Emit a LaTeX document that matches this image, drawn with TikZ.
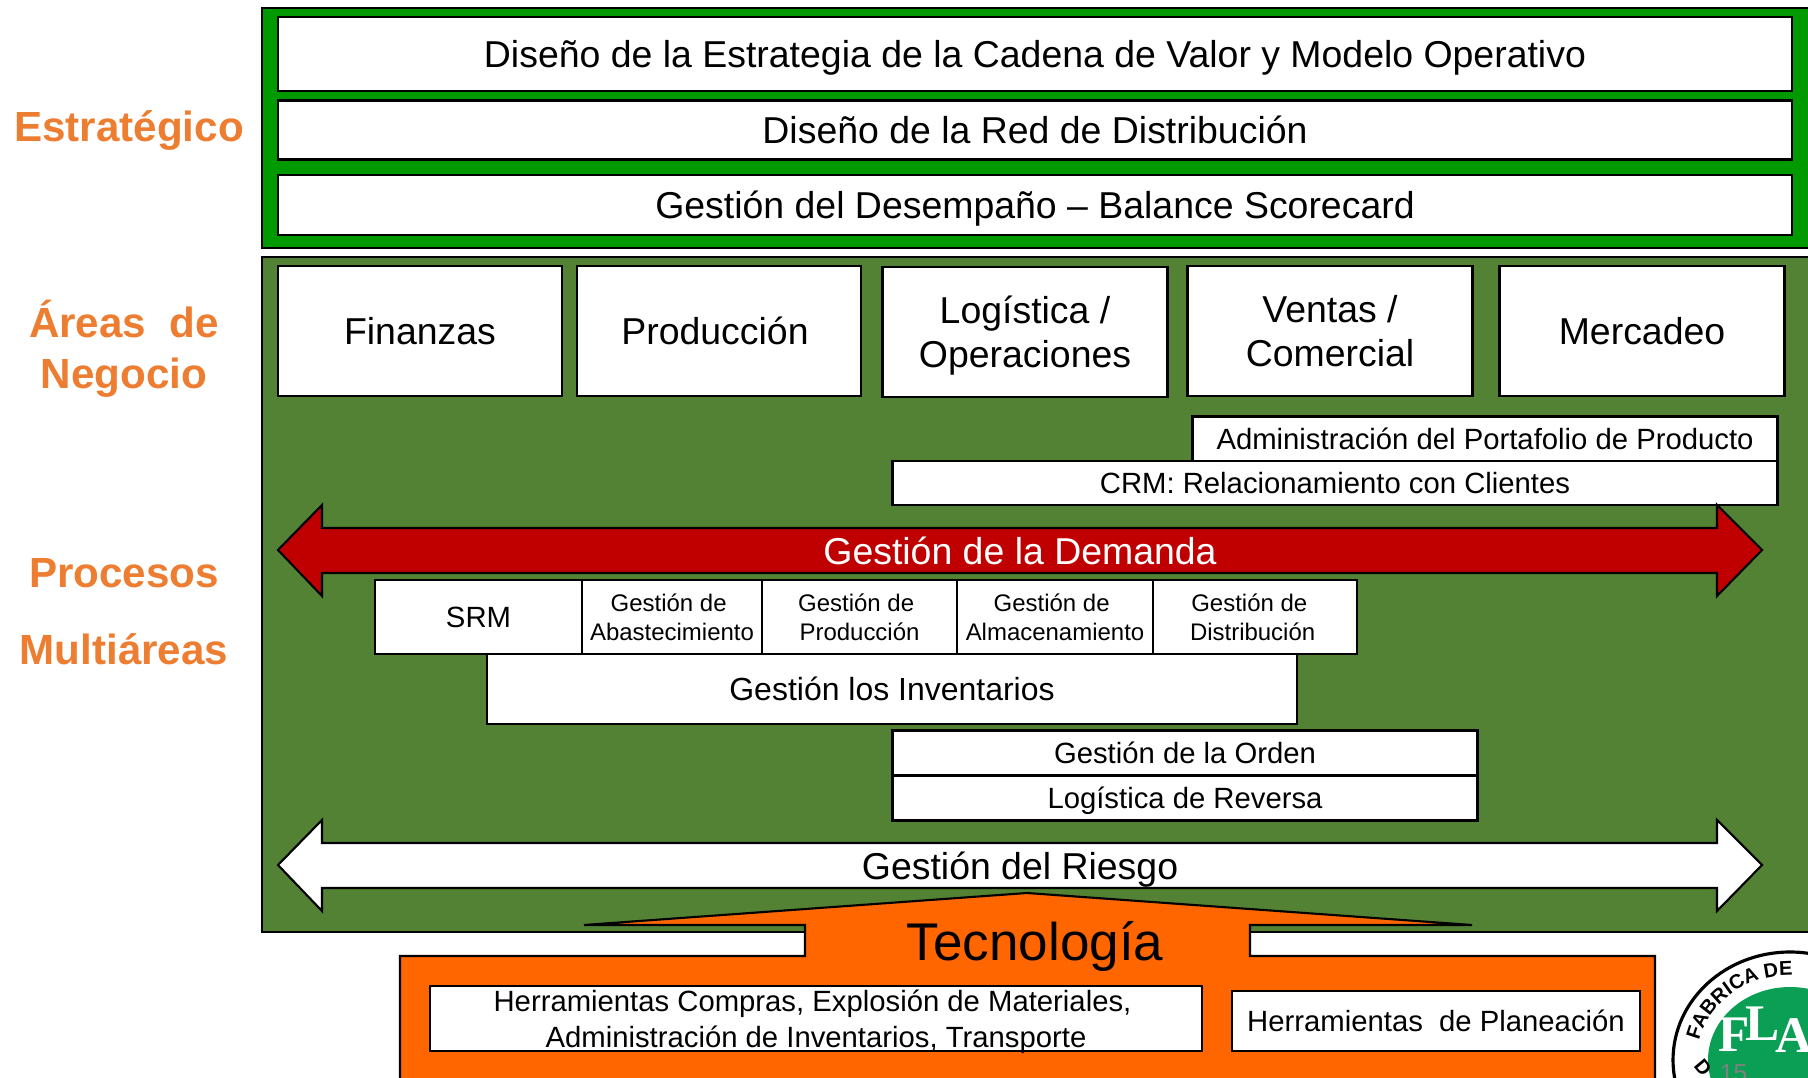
\documentclass[tikz,border=0pt]{standalone}
\usepackage{fontspec}
\setmainfont{Liberation Sans}
\newfontfamily\logofont{Liberation Serif}
\usetikzlibrary{decorations.text}
\definecolor{stratgreen}{HTML}{009A00}
\definecolor{areagreen}{HTML}{548235}
\definecolor{labelorange}{HTML}{ED7D31}
\definecolor{techorange}{HTML}{FF6600}
\definecolor{demandred}{HTML}{C00000}
\definecolor{logogreen}{HTML}{0A9F55}
\tikzset{
  panel/.style={draw=black,line width=0.6pt},
  whitebox/.style={draw=black,fill=white,line width=0.6pt,rectangle,inner sep=0pt,align=center},
  sidelabel/.style={text=labelorange,font=\fontsize{12}{14}\selectfont\bfseries,align=center,inner sep=0pt},
  big/.style={font=\fontsize{10.65}{12.6}\selectfont},
  mid/.style={font=\fontsize{8.33}{10.1}\selectfont},
  small/.style={font=\fontsize{6.82}{8.2}\selectfont},
  sink/.style={text depth=#1},
  logoletter/.style={text=white,inner sep=0pt,font=\logofont\fontsize{14.6}{15}\selectfont\bfseries},
}
\newcommand{\gde}{Gestión de\kern.28em}
\begin{document}
\begin{tikzpicture}
      \useasboundingbox (0,0) rectangle (18.08,-10.78);
      \clip (0,0) rectangle (18.08,-10.78);

      % labels on the left
      \draw (1.29,-1.305) node (estrategico) [sidelabel] {Estratégico};
      \draw (1.24,-3.195) node (areas) [sidelabel] {Áreas~ de};
      \draw (1.24,-3.775) node (negocio) [sidelabel] {Negocio};
      \draw (1.24,-5.73) node (procesos) [sidelabel] {Procesos};
      \draw (1.24,-6.49) node (multiareas) [sidelabel] {Multiáreas};

      % strategic panel
      \draw[panel,fill=stratgreen] (2.62,-0.08) rectangle (18.1,-2.48);
      \draw (10.35,-0.54) node (cadena) [whitebox,big,sink=0pt,minimum width=15.14cm,minimum height=0.74cm] {Diseño de la Estrategia de la Cadena de Valor y Modelo Operativo};
      \draw (10.35,-1.30) node (red) [whitebox,big,minimum width=15.14cm,minimum height=0.59cm] {Diseño de la Red de Distribución};
      \draw (10.35,-2.05) node (desempeno) [whitebox,big,sink=0pt,minimum width=15.14cm,minimum height=0.60cm] {Gestión del Desempaño – Balance Scorecard};

      % areas panel
      \draw[panel,fill=areagreen] (2.62,-2.57) rectangle (18.1,-9.32);
      \draw (4.20,-3.31) node (finanzas) [whitebox,big,minimum width=2.84cm,minimum height=1.30cm] {Finanzas};
      \draw (7.19,-3.31) node (produccion) [whitebox,big,minimum width=2.84cm,minimum height=1.30cm] {Producción\kern.08cm};
      \draw (10.25,-3.32) node (logistica) [whitebox,big,sink=0pt,minimum width=2.85cm,minimum height=1.30cm] {Logística /\\Operaciones};
      \draw (13.30,-3.31) node (ventas) [whitebox,big,minimum width=2.85cm,minimum height=1.30cm] {Ventas /\\Comercial};
      \draw (16.42,-3.31) node (mercadeo) [whitebox,big,minimum width=2.85cm,minimum height=1.30cm] {Mercadeo};

      \draw (14.85,-4.39) node (portafolio) [whitebox,mid,sink=-0.02cm,minimum width=5.85cm,minimum height=0.45cm] {Administración del Portafolio de Producto};
      \draw (13.35,-4.83) node (crm) [whitebox,mid,sink=-0.02cm,minimum width=8.85cm,minimum height=0.44cm] {CRM: Relacionamiento con Clientes};

      % demand arrow
      \draw[panel,fill=demandred] (2.78,-5.50) -- (3.22,-5.05) -- (3.22,-5.28) -- (17.17,-5.28) -- (17.17,-5.05) -- (17.62,-5.50) -- (17.17,-5.96) -- (17.17,-5.73) -- (3.22,-5.73) -- (3.22,-5.96) -- cycle;
      \draw (10.20,-5.505) node (demanda) [big,text=white] {Gestión de la Demanda};

      \draw (4.785,-6.17) node (srm) [whitebox,mid,sink=-0.07cm,minimum width=2.07cm,minimum height=0.74cm] {SRM};
      \draw (6.72,-6.17) node (abasto) [whitebox,small,sink=-0.02cm,minimum width=1.80cm,minimum height=0.74cm] {\gde\\Abastecimiento};
      \draw (8.595,-6.17) node (gprod) [whitebox,small,sink=-0.02cm,minimum width=1.95cm,minimum height=0.74cm] {\gde\\Producción};
      \draw (10.55,-6.17) node (almacen) [whitebox,small,sink=-0.02cm,minimum width=1.96cm,minimum height=0.74cm] {\gde\\Almacenamiento};
      \draw (12.55,-6.17) node (distrib) [whitebox,small,sink=-0.02cm,minimum width=2.04cm,minimum height=0.74cm] {\gde\kern.2em\\Distribución\kern.2em};
      \draw (8.92,-6.89) node (inventarios) [whitebox,mid,font=\fontsize{9.1}{11}\selectfont,sink=-0.08cm,minimum width=8.10cm,minimum height=0.70cm] {Gestión los Inventarios};

      \draw (11.85,-7.53) node (orden) [whitebox,mid,sink=-0.02cm,minimum width=5.85cm,minimum height=0.45cm] {Gestión de la Orden};
      \draw (11.85,-7.98) node (reversa) [whitebox,mid,sink=-0.02cm,minimum width=5.85cm,minimum height=0.45cm] {Logística de Reversa};

      % risk arrow
      \draw[panel,fill=white] (2.78,-8.65) -- (3.22,-8.20) -- (3.22,-8.43) -- (17.17,-8.43) -- (17.17,-8.20) -- (17.62,-8.65) -- (17.17,-9.11) -- (17.17,-8.88) -- (3.22,-8.88) -- (3.22,-9.11) -- cycle;
      \draw (10.20,-8.695) node (riesgo) [big] {Gestión del Riesgo};

      % technology
      \draw[panel,fill=techorange] (4.00,-10.90) -- (4.00,-9.56) -- (8.05,-9.56) -- (8.05,-9.25) -- (5.84,-9.25) -- (10.27,-8.93) -- (14.72,-9.25) -- (12.50,-9.25) -- (12.50,-9.56) -- (16.55,-9.56) -- (16.55,-10.90) -- cycle;
      \draw (10.35,-9.465) node (tecnologia) [font=\fontsize{15.1}{18}\selectfont] {Tecnología};
      \draw (8.16,-10.185) node (compras) [whitebox,mid,sink=-0.02cm,minimum width=7.72cm,minimum height=0.65cm] {Herramientas Compras, Explosión de Materiales,\kern.07cm\\Administración de Inventarios, Transporte};
      \draw (14.36,-10.21) node (planeacion) [whitebox,mid,sink=-0.07cm,minimum width=4.08cm,minimum height=0.60cm] {Herramientas~ de Planeación};

      % logo, cut by the page edge
      \draw[line width=0.9pt,fill=white] (17.90,-10.60) ellipse (1.17 and 1.08);
      \draw[fill=logogreen,draw=none] (17.90,-10.60) ellipse (0.82 and 0.73);
      \path[decorate,decoration={text along path,text={|\fontsize{5.7}{7}\selectfont\bfseries|FABRICA DE}}]
        (16.99,-10.41) arc (168:60:0.93 and 0.83);
      \draw (17.34,-10.35) node (logof) [logoletter] {F};
      \draw (17.63,-10.24) node (logol) [logoletter] {L};
      \draw (17.94,-10.36) node (logoa) [logoletter] {A};
      \draw (17.03,-10.68) node (logod) [font=\fontsize{5.7}{7}\selectfont\bfseries,inner sep=0pt,rotate=-50] {D};
      \draw (17.335,-10.735) node (slidenum) [text=gray,inner sep=0pt,font=\fontsize{7}{8}\selectfont] {15};
\end{tikzpicture}
\end{document}
